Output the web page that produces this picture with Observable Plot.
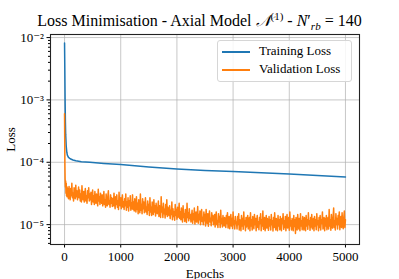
<!DOCTYPE html>
<html><head><meta charset="utf-8">
<script src="https://cdn.jsdelivr.net/npm/d3@7"></script>
<script src="https://cdn.jsdelivr.net/npm/@observablehq/plot@0.6"></script>
<style>
body{margin:0;background:#fff;}
#wrap{position:relative;width:399px;height:279px;font-family:"Liberation Serif","DejaVu Serif",serif;color:#000;}
#title{position:absolute;left:0;width:399px;top:12px;text-align:center;font-size:16px;white-space:nowrap;line-height:18px;}
#title sup{font-size:11px;vertical-align:6px;line-height:0;}
#title sub{font-size:11px;vertical-align:-4px;line-height:0;}
#legend{position:absolute;left:217px;top:40px;width:133px;height:40px;border:1px solid #d6d6d6;border-radius:3px;background:rgba(255,255,255,0.85);font-size:13px;}
.item{position:absolute;left:4px;height:16px;line-height:16px;white-space:nowrap;}
.sw{display:inline-block;width:28px;height:0;border-top:2px solid;vertical-align:middle;margin-right:9px;}
svg{position:absolute;left:0;top:0;}
</style></head>
<body>
<div id="wrap">
  <div id="chart"></div>
  <div id="title">Loss Minimisation - Axial Model <i>𝒩</i><sup>(1)</sup> - <i>N</i>′<sub><i>rb</i></sub> = 140</div>
  <div id="legend">
    <div class="item" style="top:2px"><span class="sw" style="border-color:#1f77b4"></span>Training Loss</div>
    <div class="item" style="top:20px"><span class="sw" style="border-color:#ff7f0e"></span>Validation Loss</div>
  </div>
</div>
<script>
const xTicks = [0, 1000, 2000, 3000, 4000, 5000];
const yTicks = [1e-5, 1e-4, 1e-3, 1e-2];
const yTickLabels = ["10⁻⁵", "10⁻⁴", "10⁻³", "10⁻²"];

const trainEpochs = [0, 5, 10, 15, 20, 30, 40, 50, 70, 100, 150, 200, 300, 450, 700, 1000, 1500, 2000, 2500, 3000, 3500, 4000, 4500, 5000];
const trainLoss = [8.2e-3, 3.0e-3, 1.0e-3, 4.5e-4, 2.8e-4, 1.8e-4, 1.45e-4, 1.3e-4, 1.2e-4, 1.14e-4, 1.09e-4, 1.06e-4, 1.02e-4, 1.0e-4, 9.6e-5, 9.2e-5, 8.4e-5, 7.8e-5, 7.4e-5, 7.1e-5, 6.8e-5, 6.5e-5, 6.15e-5, 5.8e-5];

// validation loss, in units of 1e-5
const valEarlyEpochs = [0, 3, 6, 10, 15, 20, 25, 30, 35, 40, 45, 50];
const valEarlyE5 = [60, 25, 10, 5.5, 4.0, 5.0, 3.2, 4.6, 2.9, 4.1, 2.8, 3.9];
const valStartEpoch = 60, valStepEpoch = 10; // samples from epoch 60 to 5000 every 10 epochs
const valLaterE5 = [
 3.4,2.6,4.1,3.0,2.5,3.8,2.9,4.6,2.7,3.2,2.4,3.9,3.1,2.6,4.3,2.8,3.5,2.5,3.0,4.0,
 2.7,3.6,2.4,3.1,2.3,4.2,2.8,2.5,3.4,2.3,3.0,3.8,2.4,2.9,2.2,3.5,2.7,3.9,2.4,3.1,
 2.5,3.3,2.1,2.8,3.6,2.3,2.9,2.1,3.4,2.5,2.2,3.1,2.6,2.0,3.7,2.4,2.8,2.1,3.2,2.4,
 2.2,3.0,2.0,2.6,3.4,2.1,2.5,1.9,3.1,2.3,2.0,2.8,3.5,2.1,2.4,1.9,3.0,2.2,2.7,1.95,
 2.6,2.0,3.2,2.2,1.8,2.8,2.1,3.0,1.9,2.4,1.75,3.3,2.2,2.0,2.7,1.8,2.5,3.0,1.9,2.3,
 1.75,2.6,2.0,3.1,1.7,2.3,1.9,2.7,1.65,2.4,2.0,2.9,1.7,2.2,1.8,3.0,1.75,2.3,1.65,2.6,
 2.0,1.6,2.8,1.75,2.2,1.5,2.5,1.9,1.55,3.1,1.7,2.1,1.5,2.6,1.8,2.3,1.55,2.0,2.7,1.6,
 1.9,1.45,2.4,1.7,2.1,1.4,2.7,1.6,1.9,1.4,2.3,1.75,1.45,2.5,1.6,2.0,1.38,2.2,1.65,1.5,
 1.8,2.4,1.35,2.0,1.55,1.3,2.8,1.6,1.9,1.3,2.2,1.5,1.75,1.28,2.1,1.45,2.5,1.35,1.9,1.5,
 1.4,2.0,1.25,1.7,1.45,2.3,1.2,1.8,1.35,1.6,1.18,2.1,1.4,1.75,1.22,1.9,1.3,1.55,2.2,1.25,
 1.6,1.2,1.85,1.35,1.1,2.0,1.3,1.5,1.12,1.75,1.4,1.08,2.2,1.3,1.55,1.15,1.8,1.25,1.45,1.1,
 1.35,1.7,1.05,1.5,1.2,1.85,1.02,1.4,1.6,1.1,1.3,1.95,1.05,1.45,1.2,1.65,1.0,1.35,1.75,1.12,
 1.3,1.0,1.6,1.15,1.45,0.95,1.75,1.2,1.05,1.5,0.94,1.35,1.65,1.1,1.25,0.96,1.55,1.15,1.4,1.0,
 1.2,1.45,0.92,1.3,1.6,1.0,1.15,0.9,1.5,1.1,1.35,0.9,1.7,1.05,1.25,0.92,1.4,1.1,0.95,1.3,
 1.15,0.9,1.4,1.05,1.55,0.88,1.2,1.35,0.86,1.1,1.45,0.95,1.25,0.87,1.6,1.0,1.15,0.85,1.35,1.05,
 1.1,0.85,1.35,1.0,1.5,0.82,1.2,1.05,0.8,1.4,0.95,1.25,0.84,1.6,1.0,1.15,0.8,1.3,0.92,1.2,
 1.4,0.85,1.1,1.3,0.8,1.55,0.95,1.2,0.82,1.35,1.05,0.86,1.45,1.0,1.25,0.8,1.15,1.4,0.9,1.1,
 0.83,1.3,1.05,1.5,0.8,1.2,0.95,1.65,0.84,1.15,1.3,0.8,1.0,1.4,0.88,1.25,1.05,0.81,1.35,0.95,
 1.2,0.82,1.45,1.0,1.15,0.79,1.3,0.9,1.55,1.05,0.82,1.25,1.1,0.8,1.4,0.95,1.2,0.83,1.35,1.0,
 0.8,1.25,1.05,1.5,0.84,1.15,0.9,1.35,0.8,1.2,1.45,0.88,1.05,1.3,0.81,1.6,0.95,1.15,0.82,1.25,
 1.05,0.8,1.4,0.93,1.2,0.72,1.3,1.0,0.82,1.45,1.1,0.85,1.25,0.8,1.5,0.95,1.15,0.83,1.35,1.0,
 0.82,1.3,1.05,0.8,1.4,0.95,1.2,0.84,1.55,1.0,1.15,0.81,1.3,0.92,1.45,0.85,1.1,1.25,0.8,1.35,
 0.95,1.2,0.83,1.5,1.0,1.15,0.8,1.3,0.9,1.4,0.82,1.2,1.05,1.6,0.85,1.1,1.3,0.8,1.25,0.95,
 1.4,0.83,1.15,1.3,0.85,1.75,0.95,1.2,0.81,1.45,1.05,0.88,1.3,1.85,0.9,1.15,0.82,1.5,1.0,1.25,
 0.85,1.4,1.0,1.6,0.83,1.2,1.35,0.9,1.55,1.05,0.86,1.3,1.65,0.9,1.2
];

const train = trainEpochs.map((e, i) => ({epoch: e, loss: trainLoss[i]}));
const val = valEarlyEpochs.map((e, i) => ({epoch: e, loss: valEarlyE5[i] * 1e-5}))
  .concat(valLaterE5.map((v, i) => ({epoch: valStartEpoch + i * valStepEpoch, loss: v * 1e-5})));

const yLabelOf = new Map(yTicks.map((t, i) => [t, yTickLabels[i]]));
const minorY = [];
for (const d of [1e-6, 1e-5, 1e-4, 1e-3]) for (let k = 2; k <= 9; k++) { const v = k * d; if (v > 4.8e-6 && v < 1.1e-2) minorY.push(v); }

const font = "Liberation Serif, DejaVu Serif, serif";
const chart = Plot.plot({
  width: 399, height: 279,
  marginLeft: 50, marginRight: 40, marginTop: 34, marginBottom: 35,
  style: {fontFamily: font, fontSize: "13px", background: "transparent", color: "#000"},
  x: {domain: [-250, 5250]},
  y: {type: "log", domain: [4.8e-6, 1.12e-2]},
  marks: [
    Plot.gridX(xTicks, {stroke: "#b0b0b0", strokeOpacity: 0.7, strokeWidth: 1}),
    Plot.gridY(yTicks, {stroke: "#b0b0b0", strokeOpacity: 0.7, strokeWidth: 1}),
    Plot.line(train, {x: "epoch", y: "loss", stroke: "#1f77b4", strokeWidth: 1.5}),
    Plot.line(val, {x: "epoch", y: "loss", stroke: "#ff7f0e", strokeWidth: 1.5}),
    Plot.axisX({ticks: xTicks, tickSize: 3.5, tickPadding: 4, tickFormat: d => String(d), fontSize: 13,
      label: "Epochs", labelAnchor: "center", labelArrow: "none", labelOffset: 33}),
    Plot.axisY({ticks: yTicks, tickSize: 3.5, tickPadding: 3, tickFormat: d => yLabelOf.get(d), fontSize: 13,
      label: "Loss", labelAnchor: "center", labelArrow: "none", labelOffset: 45}),
    Plot.axisY({ticks: minorY, tickSize: 2, tickFormat: () => "", label: null}),
    Plot.frame({stroke: "#222", strokeWidth: 1.1})
  ]
});
document.getElementById("chart").appendChild(chart);
</script>
</body></html>
